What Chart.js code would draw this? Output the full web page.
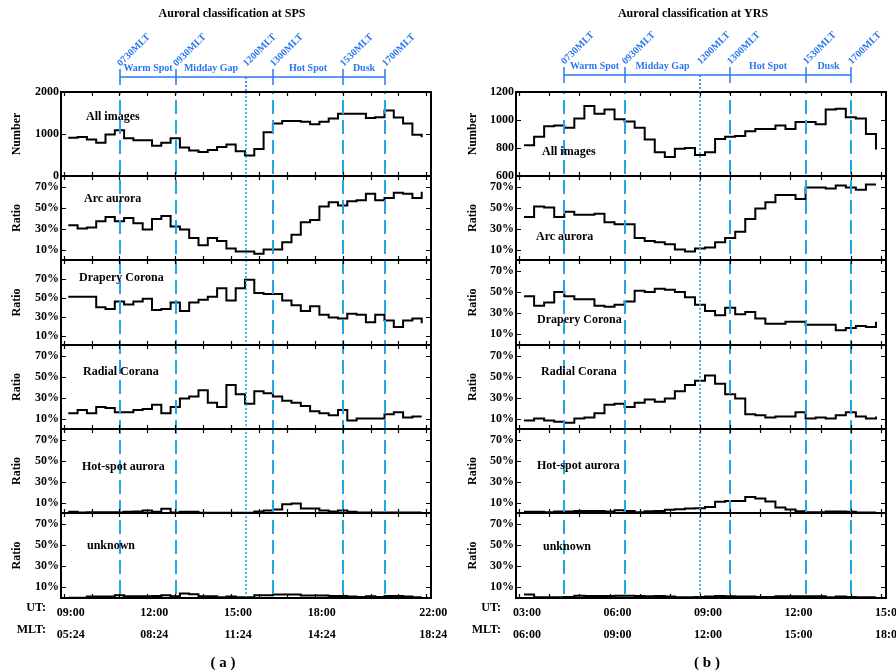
<!DOCTYPE html>
<html>
<head>
<meta charset="utf-8">
<script src="https://cdn.jsdelivr.net/npm/chart.js@4.4.1/dist/chart.umd.min.js"></script>
<style>
  body { margin: 0; background: #fff; width: 896px; height: 671px; position: relative; overflow: hidden; }
  canvas { position: absolute; }
</style>
</head>
<body>
<script>
// ---- data (20-minute bins, UT bin centres) ----
const spsBins = ['09:10','09:30','09:50','10:10','10:30','10:50','11:10','11:30','11:50','12:10','12:30','12:50','13:10',
  '13:30','13:50','14:10','14:30','14:50','15:10','15:30','15:50','16:10','16:30','16:50','17:10','17:30','17:50',
  '18:10','18:30','18:50','19:10','19:30','19:50','20:10','20:30','20:50','21:10','21:30','21:50'];
const yrsBins = ['03:10','03:30','03:50','04:10','04:30','04:50','05:10','05:30','05:50','06:10','06:30','06:50',
  '07:10','07:30','07:50','08:10','08:30','08:50','09:10','09:30','09:50','10:10','10:30','10:50','11:10','11:30',
  '11:50','12:10','12:30','12:50','13:10','13:30','13:50','14:10','14:30','14:50'];

const panelLabels = ['All images', 'Arc aurora', 'Drapery Corona', 'Radial Corana', 'Hot-spot aurora', 'unknown'];
const yTitles = ['Number', 'Ratio', 'Ratio', 'Ratio', 'Ratio', 'Ratio'];

const spsAll = [910, 930, 870, 790, 990, 1090, 900, 850, 850, 720, 790, 900, 680, 610, 570, 620, 690, 750, 590, 490,
  640, 1040, 1250, 1310, 1310, 1290, 1230, 1290, 1370, 1480, 1480, 1480, 1380, 1400, 1560, 1390, 1250, 980, 920];
const spsArc = [33, 30, 31, 37, 41, 37, 40, 35, 29, 39, 42, 32, 29, 21, 14, 21, 18, 11, 8, 8,
  6, 10, 10, 17, 24, 36, 38, 51, 55, 52, 56, 57, 63, 57, 59, 64, 63, 59, 65];
const spsDrapery = [51, 51, 51, 40, 38, 46, 43, 46, 49, 37, 38, 45, 36, 45, 48, 51, 60, 47, 60, 69,
  55, 54, 54, 47, 42, 36, 41, 32, 29, 28, 33, 32, 24, 32, 26, 19, 26, 28, 23];
const spsRadial = [15, 18, 15, 21, 20, 16, 16, 18, 19, 23, 15, 21, 29, 31, 37, 25, 21, 42, 33, 24,
  36, 34, 31, 27, 25, 22, 17, 15, 13, 18, 8, 10, 10, 10, 14, 16, 11, 12, 12];
const spsHot = [1.1, 0.5, 0.8, 0.8, 0.8, 0.8, 1.1, 1.4, 2.4, 1.1, 4, 0.5, 1.1, 1.1, 0.2, 0.2, 0.2, 0.2, 0.2, 0.2,
  1.4, 2.4, 3.3, 8.4, 9, 4.3, 4.3, 2.4, 1.4, 2.4, 1.1, 0.5, 0.5, 0.5, 0.5, 0.5, 0.5, 0.5, 0.5];
const spsUnknown = [0.3, 0.3, 1.3, 1.3, 1.3, 2.6, 1.6, 1.6, 1.6, 1.9, 2.6, 1.6, 4.2, 3.5, 1.6, 1.6, 0.6, 1.3, 0.6, 0.6,
  2.6, 2.6, 3.2, 3.2, 3.2, 2.3, 2.3, 2.3, 1.9, 1.9, 1.3, 1, 1.6, 1, 1.9, 1.9, 1.3, 0.6, 1];

const yrsAll = [820, 880, 955, 960, 945, 1010, 1100, 1045, 1075, 1005, 990, 945, 860, 770, 735, 795, 800, 750,
  770, 865, 880, 885, 920, 935, 935, 960, 935, 985, 985, 970, 1075, 1080, 1020, 1010, 900, 790];
const yrsArc = [41, 51, 50, 41, 46, 43, 43, 44, 36, 34, 34, 21, 18, 17, 15, 10, 8, 11,
  12, 17, 21, 27, 39, 49, 55, 62, 62, 58, 69, 69, 68, 71, 69, 67, 72, 72];
const yrsDrapery = [46, 37, 40, 50, 46, 43, 43, 37, 36, 38, 41, 51, 50, 53, 52, 50, 45, 38,
  32, 28, 35, 29, 31, 25, 20, 20, 22, 22, 19, 19, 19, 14, 16, 18, 17, 22];
const yrsRadial = [8, 10, 8, 7, 6, 10, 11, 15, 23, 24, 21, 25, 28, 26, 29, 36, 42, 46,
  51, 43, 33, 29, 14, 13, 11, 12, 12, 16, 10, 11, 10, 13, 16, 12, 10, 12];
const yrsHot = [1.1, 1.1, 0.8, 1.4, 1.4, 2, 2, 2, 1.4, 2.7, 2, 0.8, 1.7, 2, 3, 3.6, 4.3, 4.6,
  5.8, 10.6, 11.5, 11.5, 15.3, 13.7, 10.9, 5.2, 3.3, 1.7, 0.8, 0.8, 1.4, 1.4, 1.1, 0.5, 0.5, 0.5];
const yrsUnknown = [3.2, 0.6, 0.6, 0.6, 0.9, 2.2, 1.9, 1.9, 1.9, 2.2, 2.2, 1.9, 1.6, 1.9, 1.3, 0.6, 0.6, 0.9,
  1.3, 1.9, 1.6, 1.3, 1.3, 0.9, 0.9, 1.6, 1.6, 1.6, 1.6, 1.6, 0.6, 1.3, 0.9, 0.6, 0.6, 0.6];

// y ranges / ticks
const spsYMin = [0, 0, 0, 0, 0, 0];
const spsYMax = [2000, 80, 90, 80, 80, 80];
const yrsYMin = [600, 0, 0, 0, 0, 0];
const yrsYMax = [1200, 80, 80, 80, 80, 80];
const numTicksSps = [0, 1000, 2000];
const numTicksYrs = [600, 800, 1000, 1200];
const ratioTicks = [10, 30, 50, 70];

// MLT sector boundaries and names
const mltBounds = [7.5, 9.5, 12, 13, 15.5, 17];
const mltBoundLabels = ['0730MLT', '0930MLT', '1200MLT', '1300MLT', '1530MLT', '1700MLT'];
const sectorNames = ['Warm Spot', 'Midday Gap', '', 'Hot Spot', 'Dusk'];

// bottom axis labels
const spsUtHours = [9, 12, 15, 18, 22];
const spsUtLabels = ['09:00', '12:00', '15:00', '18:00', '22:00'];
const spsMltLabels = ['05:24', '08:24', '11:24', '14:24', '18:24'];
const yrsUtHours = [3, 6, 9, 12, 15];
const yrsUtLabels = ['03:00', '06:00', '09:00', '12:00', '15:00'];
const yrsMltLabels = ['06:00', '09:00', '12:00', '15:00', '18:00'];

// ---- layout ----
const FONT = '"Liberation Serif", "Times New Roman", serif';
const BLUE = '#2a78f0';
const CYAN = '#20a8e6';
const bounds = [92, 176, 260, 345, 429, 513, 598];

const stations = [
  {
    title: 'Auroral classification at SPS', letter: '( a )',
    bins: spsBins, series: [spsAll, spsArc, spsDrapery, spsRadial, spsHot, spsUnknown],
    yMin: spsYMin, yMax: spsYMax, numTicks: numTicksSps,
    utHours: spsUtHours, utLabels: spsUtLabels, mltLabels: spsMltLabels,
    mltToUt: 3.52, xMin: 8.905, xMax: 22.167,
    left: 0, width: 460, axisW: 61, padR: 29, titlePad: 10, labelOffset: 7,
    titleDx: 171, letterDx: 162, bracketY: 77,
    labelPos: [[25, 25], [23, 23], [18, 18], [22, 27], [21, 38], [26, 33]]
  },
  {
    title: 'Auroral classification at YRS', letter: '( b )',
    bins: yrsBins, series: [yrsAll, yrsArc, yrsDrapery, yrsRadial, yrsHot, yrsUnknown],
    yMin: yrsYMin, yMax: yrsYMax, numTicks: numTicksYrs,
    utHours: yrsUtHours, utLabels: yrsUtLabels, mltLabels: yrsMltLabels,
    mltToUt: -3, xMin: 2.9, xMax: 15.166,
    left: 440, width: 456, axisW: 76, padR: 10, titlePad: 26, labelOffset: 8,
    titleDx: 177, letterDx: 191, bracketY: 75,
    labelPos: [[26, 60], [20, 61], [21, 60], [25, 27], [21, 37], [27, 34]]
  }
];

function hrs(s) {
  const [h, m] = s.split(':').map(Number);
  return h + m / 60;
}

function decoPlugin(st, i, absTop) {
  return {
    id: 'deco' + i,
    afterDatasetsDraw(chart) {
      const { ctx, chartArea: a, scales: { x, y } } = chart;
      ctx.save();
      // sector boundary lines
      mltBounds.forEach(m => {
        const px = Math.round(x.getPixelForValue(m + st.mltToUt));
        const noon = m === 12;
        ctx.strokeStyle = CYAN;
        ctx.lineWidth = noon ? 1.6 : 2;
        ctx.setLineDash(noon ? [2, 2] : [14, 6]);
        ctx.lineDashOffset = absTop + a.top;
        ctx.beginPath();
        ctx.moveTo(px, a.top);
        ctx.lineTo(px, a.bottom);
        ctx.stroke();
      });
      ctx.setLineDash([]);

      // frame
      ctx.strokeStyle = '#000';
      ctx.lineWidth = 2;
      ctx.strokeRect(a.left, a.top, a.width, a.height);

      // inward ticks
      ctx.lineWidth = 1.2;
      ctx.beginPath();
      for (let h = Math.ceil(x.min); h <= Math.floor(x.max); h++) {
        const px = Math.round(x.getPixelForValue(h)) + 0.5;
        ctx.moveTo(px, a.top); ctx.lineTo(px, a.top + 4);
        ctx.moveTo(px, a.bottom); ctx.lineTo(px, a.bottom - 4);
      }
      y.ticks.forEach(t => {
        const py = Math.round(y.getPixelForValue(t.value)) + 0.5;
        ctx.moveTo(a.left, py); ctx.lineTo(a.left + 5, py);
        ctx.moveTo(a.right, py); ctx.lineTo(a.right - 5, py);
      });
      ctx.stroke();

      // panel label
      ctx.fillStyle = '#000';
      ctx.font = 'bold 12px ' + FONT;
      ctx.textBaseline = 'middle';
      ctx.textAlign = 'left';
      ctx.fillText(panelLabels[i], a.left + st.labelPos[i][0], a.top + st.labelPos[i][1]);

      if (i === 0) {
        // title
        ctx.textAlign = 'center';
        ctx.fillText(st.title, a.left + st.titleDx, 14);
        // bracket
        const xs = mltBounds.map(m => Math.round(x.getPixelForValue(m + st.mltToUt)));
        const by = st.bracketY;
        ctx.strokeStyle = BLUE;
        ctx.lineWidth = 1.5;
        ctx.beginPath();
        ctx.moveTo(xs[0], by); ctx.lineTo(xs[xs.length - 1], by);
        xs.forEach((px, k) => {
          if (mltBounds[k] !== 12) { ctx.moveTo(px, by - 8); ctx.lineTo(px, by + 8); }
        });
        ctx.stroke();
        ctx.setLineDash([2, 2]);
        ctx.lineWidth = 1.6;
        xs.forEach((px, k) => {
          if (mltBounds[k] === 12) {
            ctx.beginPath(); ctx.moveTo(px, by); ctx.lineTo(px, a.top); ctx.stroke();
          }
        });
        ctx.setLineDash([]);
        ctx.fillStyle = BLUE;
        ctx.font = 'bold 10px ' + FONT;
        ctx.textAlign = 'center';
        sectorNames.forEach((n, k) => {
          if (n) ctx.fillText(n, (xs[k] + xs[k + 1]) / 2, by - 9);
        });
        ctx.textAlign = 'left';
        xs.forEach((px, k) => {
          ctx.save();
          ctx.translate(px - 1, by - 12);
          ctx.rotate(-Math.PI / 4);
          ctx.fillText(mltBoundLabels[k], 0, 0);
          ctx.restore();
        });
      }

      if (i === 5) {
        ctx.fillStyle = '#000';
        ctx.font = 'bold 12px ' + FONT;
        ctx.textAlign = 'right';
        ctx.fillText('UT:', a.left - 15, a.bottom + 10);
        ctx.fillText('MLT:', a.left - 15, a.bottom + 32);
        ctx.textAlign = 'center';
        ctx.font = 'bold 15px ' + FONT;
        ctx.fillText(st.letter, a.left + st.letterDx, a.bottom + 65);
      }
      ctx.restore();
    }
  };
}

function makePanel(st, i) {
  const isTop = i === 0, isBottom = i === 5;
  const top = isTop ? 0 : bounds[i] - 12;
  const bottom = isBottom ? 671 : bounds[i + 1] + 12;
  const canvas = document.createElement('canvas');
  canvas.width = st.width;
  canvas.height = bottom - top;
  canvas.style.left = st.left + 'px';
  canvas.style.top = top + 'px';
  document.body.appendChild(canvas);

  const yTicks = i === 0 ? st.numTicks : ratioTicks;
  const tickFont = { family: FONT, size: 12, weight: 'bold' };

  new Chart(canvas, {
    type: 'line',
    data: {
      datasets: [{
        data: st.bins.map((b, k) => ({ x: hrs(b), y: st.series[i][k] })),
        borderColor: '#000',
        borderWidth: 2,
        pointRadius: 0,
        stepped: true,
        fill: false
      }]
    },
    options: {
      responsive: false,
      animation: false,
      devicePixelRatio: 1,
      layout: { padding: { left: 0, right: st.padR, top: isTop ? 92 : 12, bottom: isBottom ? 0 : 12 } },
      plugins: { legend: { display: false }, tooltip: { enabled: false } },
      scales: {
        x: {
          type: 'linear',
          min: st.xMin,
          max: st.xMax,
          display: isBottom,
          grid: { display: false, drawTicks: false },
          border: { display: false },
          afterBuildTicks: s => { s.ticks = st.utHours.map(v => ({ value: v })); },
          afterFit: s => {
            s.height = isBottom ? 73 : 0;
            s.paddingLeft = 0;
            s.paddingRight = 0;
          },
          ticks: {
            autoSkip: false,
            maxRotation: 0,
            color: '#000',
            padding: 4,
            labelOffset: st.labelOffset,
            font: { family: FONT, size: 12, weight: 'bold', lineHeight: 1.85 },
            callback: (v, k) => [st.utLabels[k], st.mltLabels[k]]
          }
        },
        y: {
          min: st.yMin[i],
          max: st.yMax[i],
          grid: { display: false, drawTicks: false },
          border: { display: false },
          afterBuildTicks: s => { s.ticks = yTicks.map(v => ({ value: v })); },
          afterFit: s => { s.width = st.axisW; },
          ticks: {
            color: '#000',
            padding: 2,
            font: tickFont,
            callback: v => i === 0 ? v : v + '%'
          },
          title: {
            display: true,
            text: yTitles[i],
            color: '#000',
            font: tickFont,
            padding: { top: st.titlePad, bottom: 0 }
          }
        }
      }
    },
    plugins: [decoPlugin(st, i, top)]
  });
}

stations.forEach(st => {
  for (let i = 0; i < 6; i++) makePanel(st, i);
});
</script>
</body>
</html>
